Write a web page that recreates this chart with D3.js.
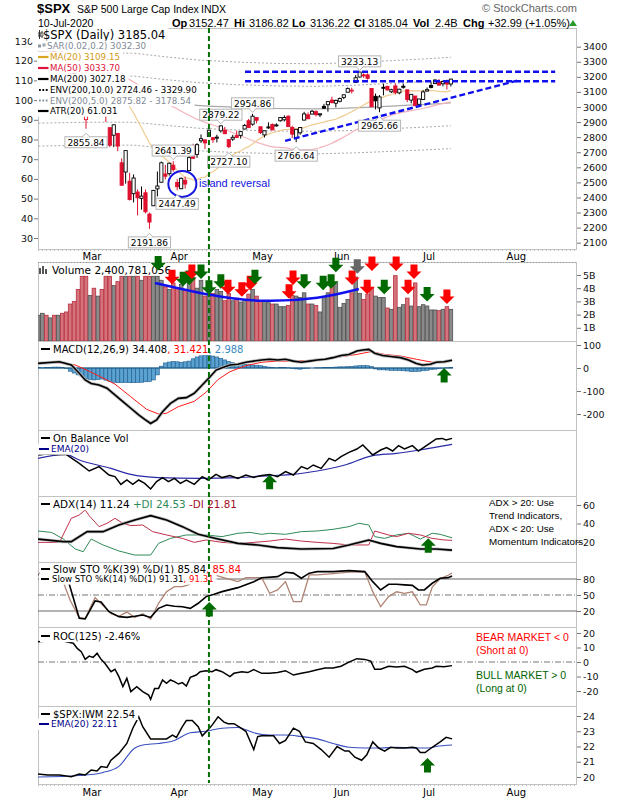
<!DOCTYPE html>
<html><head><meta charset="utf-8">
<script src="https://cdn.jsdelivr.net/npm/d3@7/dist/d3.min.js"></script>
<style>
body{margin:0;background:#fff;}
svg{display:block;font-family:"DejaVu Sans",Verdana,sans-serif;}
</style></head><body>
<svg id="c" width="620" height="800"></svg>
<script>
// ---------------- DATA ----------------
const calStart = "2020-02-11", calEnd = "2020-08-31";
const holidays = ["2020-02-17","2020-04-10","2020-05-25","2020-07-03"];
const prevClose = 3352.09;
const open = [3365,3370,3365,3378,3370,3380,3380,3360,3257,3238,3140,3062,2916,
 2974,3096,3045,3075,2954,2863,2813,2825,2630,2569,2508,2425,2436,2394,2431,2290,2345,2457,2501,2556,2558,2614,
 2499,2458,2514,2578,2738,2686,2776,2782,2805,2796,2799,2842,2845,2784,2787,2810,2812,2854,2909,2886,2930,
 2869,2815,2868,2884,2879,2909,2915,2939,2865,2794,2829,2913,2948,2953,2969,2948,3004,3015,3046,3025,
 3038,3064,3098,3112,3163,3199,3213,3213,3123,3071,2994,3131,3137,3101,3140,3094,3138,3114,3046,3073,3018,3050,
 3106,3143,3155,3167,3154,3176,3152.47];
const high = [3375,3381,3385,3381,3375,3393,3390,3360,3259,3246,3182,3098,2959,
 3091,3136,3131,3083,2985,2863,2883,2825,2660,2711,2563,2553,2453,2473,2453,2300,2450,2572,2638,2616,2631,2641.39,
 2522,2533,2538,2676,2756,2760,2818,2782,2851,2801,2816,2879.22,2868,2785,2815,2844,2842,2887,2921,2954.86,2930,
 2869,2844,2898,2891,2892,2932,2945,2945,2875,2852,2865,2968,2964,2980,2978,2956,3021,3036,3068,3049,
 3063,3081,3130,3128,3212,3233.13,3223,3223,3123,3089,3079,3154,3141,3121,3155,3121,3155,3115,3086,3073,3054,3112,
 3129,3166,3183,3185,3171,3180,3186.82];
const low = [3352,3369,3360,3367,3355,3378,3341,3328,3214,3118,3108,2977,2855.84,
 2946,2976,3034,2999,2901,2734,2734,2707,2478,2492,2380,2367,2281,2319,2295,2191.86,2345,2407,2500,2520,2545,2571,
 2447.49,2455,2459,2574,2657,2663,2762,2721,2805,2762,2765,2830,2820,2727.10,2775,2794,2791,2852,2861,2876,2892,
 2821,2798,2855,2847,2870,2903,2904,2869,2794,2766.64,2816,2913,2922,2953,2938,2933,2988,2969,3023,2998,
 3031,3052,3098,3090,3163,3196,3193,3182,2999,2984,2965.66,3077,3109,3093,3083,3084,3122,3032,3024,3004,3003,3047,
 3102,3124,3155,3143,3137,3116,3136.22];
const close = [3357,3379,3373,3380,3370,3386,3373,3338,3226,3128,3116,2979,2954,
 3090,3003,3130,3024,2972,2747,2882,2741,2481,2711,2386,2529,2398,2409,2305,2237,2447,2476,2630,2541,2627,2585,
 2471,2527,2489,2664,2660,2750,2790,2762,2846,2783,2800,2875,2823,2737,2799,2798,2837,2878,2863,2939,2912,
 2830,2842,2868,2848,2881,2929.8,2930.2,2870,2820,2852,2864,2954,2922,2972,2949,2955,2992,3036,3030,3044,
 3056,3081,3122,3112,3194,3232,3207,3190,3002,3041,3067,3125,3113,3115,3097,3118,3131,3050,3084,3009,3053,3100,
 3115,3130,3179,3145,3169,3152,3185.04];
const volumeB = [1.95,2.1,1.95,1.75,1.95,1.95,2.1,2.2,2.8,3.0,3.9,4.9,4.9,
 3.45,4.0,3.4,3.9,4.9,4.9,4.2,4.5,4.9,4.9,4.9,4.9,4.9,4.6,4.9,4.9,4.9,4.9,4.6,4.1,3.9,4.4,
 4.0,4.3,3.85,4.4,4.8,4.0,4.6,3.4,3.9,3.6,3.9,3.75,3.05,3.6,3.05,3.25,2.95,3.15,3.55,3.9,3.4,
 3.0,3.0,2.9,2.8,2.8,2.6,2.6,2.7,3.45,3.4,3.3,3.65,2.8,2.8,2.7,2.2,3.35,3.65,4.2,4.4,
 2.55,2.85,3.15,3.65,4.85,3.6,3.15,3.55,4.05,3.4,3.3,3.3,2.5,2.4,4.95,2.55,2.75,3.25,2.65,4.4,2.6,2.75,
 2.65,2.35,2.35,2.3,2.4,2.6,2.4];
const ma20 = [3302,3306,3310,3314,3317,3320,3321,3320,3316,3311,3306,3296,3283,3272,3259,3247,3231,3212,3188,3160,3130,
 3085,3052,3002,2960,2910,2862,2811,2761,2727,2695,2678,2657,2634,2613,2580,2555,2531,2527,2516,2516,2532,2534,2557,2570,
 2590,2613,2639,2664,2682,2698,2708,2725,2737,2755,2777,2792,2809,2820,2829,2836,2843,2851,2852,2854,2857,2856,2863,2872,
 2881,2888,2894,2900,2908,2913,2919,2931,2943,2955,2969,2984,2999,3013,3029,3038,3048,3058,3066,3076,3083,3091,3099,3106,
 3106,3109,3107,3107,3108,3108,3109,3108,3104,3102,3100,3109];
const ma50 = [[0,3245],[5,3262],[10,3274],[15,3259],[20,3223],[25,3149],[30,3060],[35,2987],[40,2919],[45,2872],[47,2853],
 [50,2818],[53,2788],[56,2758],[59,2736],[62,2730],[65,2716],[68,2716],[71,2731],[74,2760],[77,2801],[80,2847],[83,2883],
 [86,2914],[89,2945],[92,2966],[95,2980],[98,2997],[101,3017],[104,3034]];
const ma200 = [[0,3045],[13,3052],[24,3052],[32,3030],[40,3011],[50,2998],[60,2990],[70,2988],[80,2995],[90,3008],[98,3018],[104,3027]];
const env10Up = [[0,3350],[13,3357],[24,3357],[32,3333],[40,3312],[50,3298],[60,3289],[70,3287],[80,3295],[90,3309],[98,3320],[104,3330]];
const env5Up  = [[0,3197],[13,3205],[24,3205],[32,3182],[40,3162],[50,3148],[60,3140],[70,3137],[80,3145],[90,3158],[98,3169],[104,3179]];
const env5Lo  = [[0,2893],[13,2899],[24,2899],[32,2879],[40,2860],[50,2848],[60,2841],[70,2839],[80,2845],[90,2858],[98,2867],[104,2876]];
const env10Lo = [[0,2741],[13,2747],[24,2747],[32,2727],[40,2710],[50,2698],[60,2691],[70,2689],[80,2696],[90,2707],[98,2716],[104,2724]];
const priceLabels = [[12,2855.84,"low"],[34,2641.39,"high"],[35,2447.49,"low"],[28,2191.86,"low"],[46,2879.22,"high"],
 [48,2727.10,"low"],[54,2954.86,"high"],[65,2766.64,"low"],[86,2965.66,"low"],[81,3233.13,"high"]];
const resistance = [3234, 3171];
const resistanceSpan = [52.1, 130.3];
const trendLine = [[62.2,2775],[120.7,3175]];
const islandCircle = [36.3, 2490];
const volArc = [[29.4,4.4],[43.3,3.5],[56.4,3.05],[70.3,3.28],[80.8,3.94]];
const volArrows = [[30.2,5.35,"g"],[33.7,4.3,"r"],[36.5,4.15,"g"],[38.0,4.25,"g"],[38.7,4.7,"r"],[41.0,4.7,"g"],[43.0,3.5,"g"],
 [46.0,3.95,"g"],[47.8,3.55,"r"],[51.3,3.35,"r"],[53.4,3.85,"r"],[54.6,4.3,"g"],[63.2,3.2,"r"],[64.2,4.25,"r"],[67.0,3.95,"g"],
 [71.8,3.85,"g"],[73.8,3.95,"g"],[75.0,5.2,"g"],[79.1,4.25,"r"],[80.4,5.1,"k"],[82.9,3.55,"r"],[84.1,5.3,"r"],[87.2,3.55,"g"],
 [90.2,5.3,"r"],[93.2,3.55,"r"],[94.7,4.7,"r"],[98.0,3.0,"g"],[103.0,2.8,"r"]];
const macdLine = [[-0.2,20],[5.3,27],[8.3,13],[10.3,-23],[11.8,-52],[13.3,-67],[15.3,-74],[17.3,-88],[19.3,-117],[21.3,-146],
 [23.3,-175],[25.3,-204],[26.8,-223],[28.3,-241],[29.8,-226],[31.3,-190],[33.3,-154],[35.3,-132],[37.3,-129],[39.3,-110],
 [41.3,-74],[43.3,-38],[44.8,-9],[46.3,1],[48.3,13],[50.3,16],[52.3,25],[54.3,30],[56.3,35],[58.3,38],[60.3,35],[62.3,38],
 [64.3,30],[66.3,25],[68.3,30],[70.3,35],[72.3,38],[74.3,45],[76.3,54],[78.3,59],[80.3,74],[81.8,78],[83.3,81],[84.8,64],
 [86.8,54],[89.3,49],[91.3,45],[93.3,35],[95.3,20],[96.8,13],[98.8,16],[100.3,25],[102.3,27],[104.3,34]];
const macdSignal = [[-0.2,23],[5.3,23],[9.3,13],[12.3,-10],[15.3,-35],[19.3,-70],[23.3,-125],[27.3,-180],[30.3,-200],[32.3,-197],
 [35.3,-168],[39.3,-145],[42.3,-105],[45.3,-50],[48.3,-16],[52.3,10],[56.3,25],[60.3,30],[64.3,30],[68.3,33],[72.3,38],
 [76.3,49],[80.3,59],[83.8,71],[87.3,59],[91.3,52],[95.3,38],[99.3,25],[104.3,31]];
const macdHist = [2,1,2,3,4,4,3,-3,-14,-22,-30,-38,-46,-50,-52,-50,-48,-53,-58,-62,-64,-64,-63,-64,-64,-63,-62,-60,-59,-52,
 -30,8,22,26,28,27,25,27,30,40,48,53,57,55,52,48,42,35,28,23,20,18,16,14,13,12,10,7,4,2,1,2,3,1,-2,-4,-5,-3,-1,0,
 1,1,2,3,3,4,5,5,6,7,9,10,11,10,6,-4,-8,-8,-9,-10,-10,-11,-12,-13,-16,-15,-14,-12,-10,-7,-5,-3,-1,1,3];
const obv = [[0,20.5],[2,21],[4,20.7],[7,20.8],[10.3,16.3],[12.8,12.5],[15.3,14.7],[17.8,10.5],[19.3,9.7],[20.8,5.8],[22.3,8],
 [23.8,5.8],[25.3,8],[26.8,6.3],[28.3,3.5],[29.8,7.2],[31.3,9.2],[32.8,7.2],[34.3,8.8],[35.8,6.3],[37.3,8],[39.3,5.8],
 [41.3,9.7],[42.8,8],[44.8,10.8],[46.3,9.2],[48.3,10.2],[50.3,8.8],[52.3,10.5],[54.3,9.3],[56.3,10.2],[58.3,10.8],[60.3,9.7],
 [62.3,12.2],[64.3,10.5],[66.3,14.7],[67.8,13.5],[69.3,15.5],[71.3,13.8],[73.3,18.8],[74.8,17.5],[76.3,19.7],[78.3,21.8],
 [80.3,23.5],[81.8,25.5],[84.3,20.5],[86.3,23],[87.8,24.2],[89.3,22.5],[90.8,25.2],[92.3,23.5],[94.3,25.2],[95.8,22.5],
 [98.3,25.8],[100.3,28.5],[101.8,28.8],[102.8,28],[104.3,28.8]];
const obvEma = [[-0.2,18.8],[6.8,20.8],[10.3,18],[18.3,13.8],[23.3,10.8],[30.3,9.2],[40.3,8.8],[50.3,9.2],[58.3,10.2],
 [64.3,10.8],[70.3,12.5],[77.3,15.5],[84.3,20.2],[90.3,21.3],[96.3,23],[104.3,25.8]];
const adx = [[-0.2,23.2],[6.3,20.4],[8.3,20.4],[12.3,31.2],[16.3,31.2],[20.3,38.4],[24.3,43.8],[28.3,48.5],[32.3,43.8],
 [36.3,36.6],[40.3,28.3],[45.3,23.2],[50.3,18.5],[55.3,16.8],[60.3,13.9],[66.3,12.4],[74.3,13],[78.3,16.8],[83.3,22.2],
 [86.3,18.5],[90.3,15],[96.3,12.4],[100.3,12.4],[104.3,11.2]];
const plusDI = [[-0.2,31.9],[3.3,30.4],[6.3,23.2],[9.3,12.4],[11.3,9.5],[13.3,23.2],[16.3,16.8],[20.3,10.3],[24.3,5.9],
 [28.3,5.9],[30.3,18.5],[33.3,23.9],[37.3,27.6],[42.3,27.6],[46.3,25.8],[50.3,29.4],[53.3,30.4],[56.3,28.3],[58.3,29.4],
 [62.3,28.3],[66.3,31.2],[70.3,31.9],[74.3,33.7],[78.3,36.6],[80.8,40.2],[83.3,38.4],[84.8,25.8],[87.3,23.9],[90.3,27.6],
 [93.3,29.4],[96.3,23.2],[99.3,29.4],[101.3,28.3],[104.3,24.5]];
const minusDI = [[-0.2,19.6],[5.3,19.6],[8.3,45.6],[10.3,49.2],[11.8,54.6],[12.8,48.5],[15.3,36.6],[17.3,40.2],[19.3,45.6],
 [21.3,40.2],[23.3,37.7],[26.3,38.4],[28.8,31.2],[32.3,27.6],[36.3,23.9],[39.3,19.6],[42.3,22.2],[46.3,19.6],[50.3,18.5],
 [54.3,19.6],[58.3,21],[62.3,23.2],[66.3,21],[70.3,19.6],[74.3,18.5],[78.3,16.8],[83.3,16.8],[84.8,31.9],[88.3,27.6],
 [90.3,25.8],[93.3,29.4],[96.3,27.6],[99.3,23.9],[102.3,22.2],[104.3,21.8]];
const sto39 = [[0,88],[2,90],[4,92],[6,85],[7.8,70],[10.3,6.3],[11.8,5],[14.3,38.8],[15.8,37],[17.8,18.8],[20.3,9.4],[22.3,8],
 [24.3,10],[26.3,12.5],[28.3,8],[30.3,25],[32.3,31.3],[34.3,29],[36.3,28],[38.3,25],[40.3,34.5],[42.3,47],[44.3,51.3],
 [46.3,56.3],[50.3,63.8],[54.3,75],[56.3,82.5],[60.3,84.4],[62.3,92.6],[64.3,91],[66.3,81.4],[68.3,91],[70.3,93.8],
 [74.3,93.8],[78.3,95.7],[82.3,93.8],[84.3,75],[86.3,59.5],[88.3,70.2],[90.3,70.2],[92.3,69],[94.3,68],[95.8,59.5],
 [97.3,59.5],[99.3,72],[101.3,81.4],[103.3,82.5],[104.3,85.8]];
const sto14 = [[0,90],[2,95],[4,97],[6,80],[8,40],[10.3,8],[11.8,6],[13.3,30],[14.3,45],[16.3,30],[18.3,15],[20.3,10],
 [22.3,18],[24.3,8],[26.3,15],[28.3,5],[30.3,34.5],[32.3,56],[34.3,65.7],[36.3,65.7],[37.8,69],[40.3,80],[42.3,86],
 [44.3,88],[45.8,84.4],[50.3,75],[52.3,82.5],[56.3,82.5],[58.3,53.3],[60.3,59.5],[62.3,75],[64.3,37.5],[66.3,37.5],
 [68.3,87.6],[70.3,87.6],[74.3,90],[78.3,93],[82.3,93],[84.3,56.3],[86.3,28.1],[88.3,47],[90.3,56],[92.3,53],[94.3,56],
 [96.3,31.3],[97.8,31.3],[99.3,65],[101.3,81],[103.3,87],[104.3,91.3]];
const roc = [[-0.2,14],[2.3,14.5],[6.3,14.5],[8.8,12.9],[9.8,9.4],[10.8,7.1],[11.8,1.8],[12.8,4.1],[13.8,3.2],[14.8,6],
 [15.8,1.8],[16.8,-1],[18.3,-6.7],[19.3,-5],[20.3,-10.1],[21.3,-17],[22.3,-11.3],[23.3,-20.4],[24.8,-17],[26.3,-20.4],
 [27.8,-22.8],[28.3,-25.7],[29.3,-18.2],[30.3,-18.2],[31.3,-12.4],[32.3,-14.7],[33.3,-12.4],[34.3,-13.5],[35.3,-15.2],
 [36.3,-14.2],[37.3,-16.6],[38.3,-10.6],[39.8,-9],[40.8,-6.7],[42.3,-6],[43.8,-6.7],[44.8,-5.3],[46.3,-6.7],[47.3,-8.3],
 [48.3,-10.1],[49.3,-7.8],[51.3,-6.7],[52.8,-7.3],[54.3,-5.3],[56.3,-7.8],[58.3,-7.8],[60.3,-7.3],[62.3,-6],[64.3,-9],
 [66.3,-7.8],[68.3,-6.7],[70.3,-5.3],[72.3,-4.1],[74.3,-4.1],[76.3,-2.9],[78.3,-0.1],[80.3,2.3],[82.3,1.8],[83.8,0.6],
 [84.8,-5],[86.3,-5],[88.3,-2.9],[90.3,-3.4],[92.3,-2.9],[94.3,-5.3],[95.3,-7.1],[97.3,-5],[99.3,-4.1],[100.3,-2.9],
 [102.3,-3.3],[104.3,-2.5]];
const spxIwm = [[-0.2,20.2],[2.3,20.13],[5.3,20.13],[8.3,20.02],[10.3,20.2],[11.8,20.13],[13.3,20.46],[14.8,20.4],[15.8,20.68],
 [17.3,20.63],[18.3,21.1],[20.3,21.55],[22.3,22.2],[23.8,23.2],[24.8,23.7],[25.3,23.95],[26.3,23.3],[28.3,22.5],[30.3,22.5],
 [32.3,22.5],[33.8,22.75],[34.8,22.6],[36.3,23.3],[37.3,23.7],[38.8,23.7],[40.3,23.3],[41.3,22.7],[42.8,23.1],[43.8,23.4],
 [45.3,23.95],[46.8,23.6],[47.8,23.5],[49.3,23.5],[50.8,23.25],[52.3,23.0],[54.3,21.8],[55.3,22.65],[56.3,22.7],[59.3,22.7],
 [60.8,22.2],[62.3,22.4],[64.3,23.2],[65.8,23.0],[67.3,22.3],[69.3,22.2],[71.3,21.8],[73.3,21.3],[75.3,22.0],[77.3,21.7],
 [78.3,21.7],[79.8,21.3],[81.5,21.1],[82.8,21.45],[84.3,22.3],[85.8,21.9],[87.3,21.7],[88.8,21.95],[90.3,21.9],[92.3,21.9],
 [94.3,21.95],[95.3,21.9],[96.3,21.6],[97.5,21.6],[99.3,21.95],[101.3,22.3],[102.8,22.6],[104.3,22.5]];
const iwmEma = [[-0.2,20.0],[10.3,20.1],[16.3,20.3],[20.3,20.7],[24.3,21.9],[26.3,22.1],[30.3,22.2],[34.3,22.4],[38.3,22.9],
 [42.3,23.0],[46.3,23.2],[50.3,23.25],[54.3,22.9],[58.3,22.75],[62.3,22.75],[66.3,22.65],[70.3,22.5],[74.3,22.2],[78.3,21.95],
 [82.3,21.9],[86.3,21.9],[90.3,21.95],[94.3,21.9],[98.3,21.9],[100.3,22.0],[104.3,22.1]];
const upArrows = [["macd",102.3,0],["obv",58.3,10.6],["adx",98.3,24],["sto",43.1,37],["iwm",98.1,21.25]];
const vLineIdx = 43;
const priceTicks = [2100,2200,2300,2400,2500,2600,2700,2800,2900,3000,3100,3200,3300,3400];
const leftTicks = [30,40,50,60,70,80,90,100,110,120,130];
const volTicks = [1,2,3,4,5];
const macdTicks = [-200,-100,0,100];
const adxTicks = [20,40,60];
const stoTicks = [20,50,80];
const rocTicks = [-20,-10,0,10,20];
const iwmTicks = [20,21,22,23,24];

// ---------------- LAYOUT ----------------
const svg = d3.select("#c");
const L = 38, R = 577;
const X = d3.scaleLinear().domain([-0.1,135.8]).range([L,R]);
const P = {price:[28,249],vol:[262,341],macd:[341,430],obv:[430,496],adx:[496,562],sto:[562,627],roc:[627,706],iwm:[706,784]};
const yP = d3.scaleLinear().domain([2100,3400]).range([242.7,46.7]);
const yPL = d3.scaleLinear().domain([30,130]).range([238,41]);
const yV = d3.scaleLinear().domain([0,5]).range([341,275]);
const yM = d3.scaleLinear().domain([-200,100]).range([414,345]);
const yO = d3.scaleLinear().domain([0,32.5]).range([496,431]);
const yA = d3.scaleLinear().domain([20,60]).range([542,505]);
const yS = d3.scaleLinear().domain([20,80]).range([611,579]);
const yR = d3.scaleLinear().domain([-20,20]).range([691,633]);
const yI = d3.scaleLinear().domain([20,24]).range([777,716]);
const YS = {macd:yM,obv:yO,adx:yA,sto:yS,iwm:yI};

const parse = d3.timeParse("%Y-%m-%d"), fmt = d3.timeFormat("%Y-%m-%d");
const days = d3.timeDay.range(parse(calStart), d3.timeDay.offset(parse(calEnd),1))
  .filter(d => d.getDay()%6 !== 0 && !holidays.includes(fmt(d)));
const monthTicks = [];
days.forEach((d,i)=>{ if(i>0 && d.getMonth()!==days[i-1].getMonth()) monthTicks.push([i, d3.timeFormat("%b")(d)]); });

const defs = svg.append("defs");
Object.entries(P).forEach(([k,[t,b]])=>{
  defs.append("clipPath").attr("id","clip-"+k).append("rect").attr("x",L).attr("y",t).attr("width",R-L).attr("height",b-t);
});
Object.entries(P).forEach(([k,[t,b]])=>{
  svg.append("rect").attr("x",L+0.5).attr("y",t+0.5).attr("width",R-L-1).attr("height",b-t).attr("fill","none").attr("stroke","#c2c2c2");
});
svg.append("line").attr("x1",L).attr("x2",R).attr("y1",250.5).attr("y2",250.5).attr("stroke","#bbb").attr("stroke-dasharray","1,3");
svg.append("line").attr("x1",L).attr("x2",R).attr("y1",262.5).attr("y2",262.5).attr("stroke","#999").attr("stroke-dasharray","1,2");
svg.append("line").attr("x1",L).attr("x2",R).attr("y1",785.5).attr("y2",785.5).attr("stroke","#bbb").attr("stroke-dasharray","1,3");

const lineP = (y,curve)=>d3.line().x(d=>X(d[0])).y(d=>y(d[1])).curve(curve||d3.curveLinear);
function gClip(k){ return svg.append("g").attr("clip-path","url(#clip-"+k+")"); }
function axisRight(y,ticks,fmtf){
  const g = svg.append("g").attr("transform","translate("+R+",0)")
    .call(d3.axisRight(y).tickValues(ticks).tickSize(4).tickPadding(2).tickFormat(fmtf||(d=>d)));
  g.select(".domain").remove();
  g.selectAll("line").attr("stroke","#777");
  g.selectAll("text").attr("font-family","DejaVu Sans").attr("font-size",9.5).attr("fill","#111");
  return g;
}
function legendRow(x,y,parts,fs,bg){
  const t = svg.append("text").attr("x",x).attr("y",y+fs*0.36).attr("font-size",fs);
  parts.forEach(p=>t.append("tspan").attr("fill",p[1]).text(p[0]));
  if(bg!==false){
    const bb = t.node().getBBox();
    svg.insert("rect", function(){return t.node();}).attr("x",x-13).attr("y",bb.y-0.5).attr("width",bb.width+16).attr("height",bb.height+1).attr("fill","#fff");
  }
  return t;
}
function arrowPath(x,yTip,dir){
  const hw=7.5, sw=3.5, hh=7.5, sh=7, s=dir;
  const yb=yTip-s*hh, yt=yTip-s*(hh+sh);
  return `M${x-sw},${yt}L${x+sw},${yt}L${x+sw},${yb}L${x+hw},${yb}L${x},${yTip}L${x-hw},${yb}L${x-sw},${yb}Z`;
}
const arrowCol = {g:"#006a00", r:"#ff0000", k:"#666666"};

// ---------------- HEADER ----------------
svg.append("text").attr("x",37).attr("y",13).attr("font-family","Liberation Sans").attr("font-weight","bold").attr("font-size",13).text("$SPX");
svg.append("text").attr("x",77).attr("y",13).attr("font-family","Liberation Sans").attr("font-size",10.5).text("S&P 500 Large Cap Index");
svg.append("text").attr("x",201).attr("y",13).attr("font-family","Liberation Sans").attr("font-size",10.5).text("INDX");
svg.append("text").attr("x",577).attr("y",12).attr("text-anchor","end").attr("font-family","Liberation Sans").attr("font-size",11).attr("fill","#666").text("\u00a9 StockCharts.com");
svg.append("text").attr("x",38).attr("y",26.5).attr("font-family","Liberation Sans").attr("font-size",10.5).text("10-Jul-2020");
const hdr = [["Op",172,true],["3152.47",189],["Hi",234,true],["3186.82",249],["Lo",292,true],["3136.22",310],["Cl",354,true],
  ["3185.04",368],["Vol",413,true],["2.4B",435],["Chg",463,true],["+32.99 (+1.05%)",488]];
hdr.forEach(h=>svg.append("text").attr("x",h[1]).attr("y",26.5).attr("font-family","Liberation Sans").attr("font-size",11)
  .attr("font-weight",h[2]?"bold":"normal").text(h[0]));
svg.append("path").attr("d","M569,26L577,26L573,20Z").attr("fill","#2a9a2a");

// ---------------- PRICE PANEL ----------------
const gp = gClip("price");
[env10Up,env5Up,env5Lo,env10Lo].forEach(a=>gp.append("path").attr("d",lineP(yP)(a)).attr("fill","none")
   .attr("stroke","#a9a9a9").attr("stroke-width",1).attr("stroke-dasharray","2,2"));
gp.append("path").attr("d",lineP(yP,d3.curveMonotoneX)(ma200)).attr("fill","none").attr("stroke","#a8a8a8").attr("stroke-width",1.2);
gp.append("path").attr("d",lineP(yP,d3.curveMonotoneX)(ma50)).attr("fill","none").attr("stroke","#f4b4bc").attr("stroke-width",1.2);
gp.append("path").attr("d",d3.line().x((d,i)=>X(i)).y(d=>yP(d))(ma20)).attr("fill","none").attr("stroke","#efcb8f").attr("stroke-width",1.2);
close.forEach((c,i)=>{
  const pc = i===0?prevClose:close[i-1];
  const col = c<pc ? "#e0102f" : "#000";
  const o = open[i], x = X(i);
  gp.append("line").attr("x1",x).attr("x2",x).attr("y1",yP(high[i])).attr("y2",yP(low[i])).attr("stroke",col).attr("stroke-width",1);
  const yt = yP(Math.max(o,c)), yb = yP(Math.min(o,c));
  gp.append("rect").attr("x",x-1.6).attr("y",yt).attr("width",3.2).attr("height",Math.max(1,yb-yt))
    .attr("fill", c>=o ? "#fff" : col).attr("stroke",col).attr("stroke-width",0.9);
});
resistance.forEach(v=>gp.append("line").attr("x1",X(resistanceSpan[0])).attr("x2",X(resistanceSpan[1])).attr("y1",yP(v)).attr("y2",yP(v))
  .attr("stroke","#1010ee").attr("stroke-width",2.4).attr("stroke-dasharray","6,3"));
gp.append("path").attr("d",lineP(yP)(trendLine)).attr("stroke","#1010ee").attr("stroke-width",2.4).attr("stroke-dasharray","6,3").attr("fill","none");
gp.append("ellipse").attr("cx",X(islandCircle[0])).attr("cy",yP(islandCircle[1])).attr("rx",14).attr("ry",13)
  .attr("fill","none").attr("stroke","#1515e0").attr("stroke-width",2);
svg.append("text").attr("x",199).attr("y",187).attr("font-family","Liberation Sans").attr("font-size",11).attr("fill","#1515e0").text("island reversal");
priceLabels.forEach(([i,v,kind])=>{
  const cx = X(i), txt = v.toFixed(2);
  const t = svg.append("text").attr("x",cx).attr("text-anchor","middle").attr("font-size",9).text(txt);
  const w = t.node().getComputedTextLength()+5, h = 11;
  let top;
  if(kind==="low"){ top = yP(v)+8; } else { top = yP(v)-5-h; }
  t.attr("y",top+8.8);
  const g = svg.insert("g",function(){return t.node();});
  g.append("rect").attr("x",cx-w/2).attr("y",top).attr("width",w).attr("height",h).attr("fill","#fff").attr("stroke","#b5b5b5");
  if(kind==="low") g.append("path").attr("d",`M${cx-4},${top+0.5}L${cx},${top-3.5}L${cx+4},${top+0.5}`).attr("fill","#fff").attr("stroke","#b5b5b5");
  else g.append("path").attr("d",`M${cx-4},${top+h-0.5}L${cx},${top+h+3.5}L${cx+4},${top+h-0.5}`).attr("fill","#fff").attr("stroke","#b5b5b5");
});
axisRight(yP,priceTicks);
{
  const g = svg.append("g").attr("transform","translate("+L+",0)").call(d3.axisLeft(yPL).tickValues(leftTicks).tickSize(4).tickPadding(1));
  g.select(".domain").remove(); g.selectAll("line").attr("stroke","#777");
  g.selectAll("text").attr("font-family","DejaVu Sans").attr("font-size",9.5).attr("fill","#111");
}
const pRows = [
 [35,11.5,43,[["$SPX (Daily) 3185.04","#000"]],"candle"],
 [46,8.7,47,[["SAR(0.02,0.2) 3032.30","#7f8a96"]],"sar"],
 [57,8.7,50,[["MA(20) 3109.15","#d49a17"]],"#daa520"],
 [68,8.7,50,[["MA(50) 3033.70","#dc143c"]],"#dc143c"],
 [79,8.7,50,[["MA(200) 3027.18","#000"]],"#000"],
 [90,8.7,50,[["ENV(200,10.0) 2724.46 - 3329.90","#000"]],"dots#000"],
 [100.5,8.7,50,[["ENV(200,5.0) 2875.82 - 3178.54","#7f8a96"]],"dots#8a96a0"],
 [111,8.7,50,[["ATR(20) 61.031","#000"]],"#000"]];
pRows.forEach(([y,fs,x,parts,icon])=>{
  legendRow(x,y,parts,fs);
  if(icon==="candle"){
    svg.append("line").attr("x1",39.5).attr("x2",39.5).attr("y1",30).attr("y2",39).attr("stroke","#333");
    svg.append("rect").attr("x",38.5).attr("y",32).attr("width",2).attr("height",5).attr("fill","#333");
    svg.append("line").attr("x1",42).attr("x2",42).attr("y1",31).attr("y2",38).attr("stroke","#333");
    svg.append("rect").attr("x",41).attr("y",33).attr("width",2).attr("height",3).attr("fill","#fff").attr("stroke","#333").attr("stroke-width",0.7);
  } else if(icon==="sar"){
    svg.append("rect").attr("x",38.5).attr("y",y-1).attr("width",2).attr("height",2).attr("fill","none").attr("stroke","#8a96a0");
    svg.append("rect").attr("x",43).attr("y",y-2).attr("width",2).attr("height",2).attr("fill","none").attr("stroke","#8a96a0");
  } else if(icon.startsWith("dots")){
    const c = icon.slice(4);
    svg.append("line").attr("x1",39).attr("x2",49).attr("y1",y).attr("y2",y).attr("stroke",c).attr("stroke-width",1.8).attr("stroke-dasharray","1.8,1.6");
  } else {
    svg.append("line").attr("x1",38).attr("x2",48.5).attr("y1",y).attr("y2",y).attr("stroke",icon).attr("stroke-width",2.2);
  }
});

const mLab = (y)=>monthTicks.forEach(([i,lab])=>{ if(X(i)<R-10) svg.append("text").attr("x",X(i)+2).attr("y",y).attr("text-anchor","middle").attr("font-size",10).text(lab); });
mLab(259.5); mLab(796);

// ---------------- VOLUME ----------------
const gv = gClip("vol");
volumeB.forEach((v,i)=>{
  const pc = i===0?prevClose:close[i-1];
  const dn = close[i]<pc;
  gv.append("rect").attr("x",X(i)-1.8).attr("y",yV(v)).attr("width",3.6).attr("height",yV(0)-yV(v))
    .attr("fill",dn?"#d4737b":"#8a8a8a").attr("stroke",dn?"#b83040":"#505050").attr("stroke-width",0.8);
});
legendRow(52,270.5,[["Volume 2,400,781,056","#000"]],10.5,false);
[[39,268,2,6],[42,266,2,8],[45,269,2,5]].forEach(r=>svg.append("rect").attr("x",r[0]).attr("y",r[1]).attr("width",r[2]).attr("height",r[3]).attr("fill","#555"));
svg.append("path").attr("d",lineP(yV,d3.curveNatural)(volArc)).attr("fill","none").attr("stroke","#1010ee").attr("stroke-width",2.5);
volArrows.forEach(([i,v,c])=>svg.append("path").attr("d",arrowPath(X(i),yV(v),1)).attr("fill",arrowCol[c]));
axisRight(yV,volTicks,d=>d+"B");

// ---------------- MACD ----------------
const gm = gClip("macd");
macdHist.forEach((v,i)=>{
  gm.append("rect").attr("x",X(i)-1.9).attr("y",Math.min(yM(0),yM(v))).attr("width",3.8).attr("height",Math.abs(yM(v)-yM(0)))
    .attr("fill","#5aa2d2").attr("stroke","#1d5a8a").attr("stroke-width",0.6);
});
gm.append("line").attr("x1",X(-0.5)).attr("x2",X(104.5)).attr("y1",yM(0)).attr("y2",yM(0)).attr("stroke","#1d5a8a").attr("stroke-width",1);
gm.append("path").attr("d",lineP(yM)(macdSignal)).attr("fill","none").attr("stroke","#ff1a1a").attr("stroke-width",1);
gm.append("path").attr("d",lineP(yM)(macdLine)).attr("fill","none").attr("stroke","#bbb").attr("stroke-width",3.2);
gm.append("path").attr("d",lineP(yM)(macdLine)).attr("fill","none").attr("stroke","#000").attr("stroke-width",1.6);
legendRow(53,349,[["MACD(12,26,9) 34.408","#000"],[", 31.421","#ff0000"],[", 2.988","#3a8ac0"]],10);
svg.append("line").attr("x1",41).attr("x2",50).attr("y1",349).attr("y2",349).attr("stroke","#000").attr("stroke-width",2);
axisRight(yM,macdTicks);

// ---------------- OBV ----------------
const go = gClip("obv");
go.append("path").attr("d",lineP(yO,d3.curveMonotoneX)(obvEma)).attr("fill","none").attr("stroke","#2a2aa8").attr("stroke-width",1.2);
go.append("path").attr("d",lineP(yO)(obv)).attr("fill","none").attr("stroke","#000").attr("stroke-width",1.5);
legendRow(53,438,[["On Balance Vol","#000"]],10);
legendRow(51,449,[["EMA(20)","#00008b"]],9);
svg.append("line").attr("x1",41).attr("x2",50).attr("y1",438).attr("y2",438).attr("stroke","#000").attr("stroke-width",2);
svg.append("line").attr("x1",39).attr("x2",49).attr("y1",449).attr("y2",449).attr("stroke","#00008b").attr("stroke-width",2);

// ---------------- ADX ----------------
const ga = gClip("adx");
ga.append("path").attr("d",lineP(yA)(plusDI)).attr("fill","none").attr("stroke","#2e8b57").attr("stroke-width",1);
ga.append("path").attr("d",lineP(yA)(minusDI)).attr("fill","none").attr("stroke","#c0304a").attr("stroke-width",1);
ga.append("path").attr("d",lineP(yA)(adx)).attr("fill","none").attr("stroke","#bbb").attr("stroke-width",3);
ga.append("path").attr("d",lineP(yA)(adx)).attr("fill","none").attr("stroke","#000").attr("stroke-width",1.6);
legendRow(53,504,[["ADX(14) 11.24","#000"],[" +DI 24.53","#2e8b57"],[" -DI 21.81","#a0102a"]],10.4);
svg.append("line").attr("x1",41).attr("x2",50).attr("y1",504).attr("y2",504).attr("stroke","#000").attr("stroke-width",2);
axisRight(yA,adxTicks);
["ADX > 20: Use","Trend Indicators,","ADX < 20: Use","Momentum Indicators"].forEach((s,k)=>
  svg.append("text").attr("x",489).attr("y",506+k*13).attr("font-family","Liberation Sans").attr("font-size",9.8).text(s));

// ---------------- STO ----------------
const gs = gClip("sto");
gs.append("line").attr("x1",L).attr("x2",R).attr("y1",yS(80)).attr("y2",yS(80)).attr("stroke","#666");
gs.append("line").attr("x1",L).attr("x2",R).attr("y1",yS(20)).attr("y2",yS(20)).attr("stroke","#666");
gs.append("line").attr("x1",L).attr("x2",R).attr("y1",yS(50)).attr("y2",yS(50)).attr("stroke","#777").attr("stroke-dasharray","6,2,1,2");
gs.append("path").attr("d",lineP(yS)(sto14)).attr("fill","none").attr("stroke","#b08474").attr("stroke-width",1.3);
gs.append("path").attr("d",lineP(yS)(sto39)).attr("fill","none").attr("stroke","#000").attr("stroke-width",1.6);
legendRow(53,569,[["Slow STO %K(39) %D(1) 85.84","#000"],[", 85.84","#ff0000"]],10);
legendRow(52,579,[["Slow STO %K(14) %D(1) 91.31","#000"],[", 91.31","#ff0000"]],8.6);
svg.append("line").attr("x1",41).attr("x2",50).attr("y1",569).attr("y2",569).attr("stroke","#000").attr("stroke-width",2);
svg.append("line").attr("x1",41).attr("x2",49).attr("y1",579).attr("y2",579).attr("stroke","#000").attr("stroke-width",2);
axisRight(yS,stoTicks);

// ---------------- ROC ----------------
const gr = gClip("roc");
gr.append("line").attr("x1",L).attr("x2",R).attr("y1",yR(0)).attr("y2",yR(0)).attr("stroke","#777").attr("stroke-dasharray","6,2,1,2");
gr.append("path").attr("d",lineP(yR)(roc)).attr("fill","none").attr("stroke","#000").attr("stroke-width",1.5);
legendRow(53,636,[["ROC(125) -2.46%","#000"]],10);
svg.append("line").attr("x1",41).attr("x2",50).attr("y1",636).attr("y2",636).attr("stroke","#000").attr("stroke-width",2);
axisRight(yR,rocTicks);
[["BEAR MARKET < 0",641,"#ff0000"],["(Short at 0)",654,"#ff0000"],["BULL MARKET > 0",679,"#006400"],["(Long at 0)",692,"#006400"]]
 .forEach(s=>svg.append("text").attr("x",476).attr("y",s[1]).attr("font-family","Liberation Sans").attr("font-size",10.5).attr("fill",s[2]).text(s[0]));

// ---------------- SPX:IWM ----------------
const gi = gClip("iwm");
gi.append("path").attr("d",lineP(yI,d3.curveMonotoneX)(iwmEma)).attr("fill","none").attr("stroke","#3a4fc0").attr("stroke-width",1.1);
gi.append("path").attr("d",lineP(yI)(spxIwm)).attr("fill","none").attr("stroke","#000").attr("stroke-width",1.5);
legendRow(53,714,[["$SPX:IWM 22.54","#000"]],10);
legendRow(51,724,[["EMA(20) 22.11","#00008b"]],9);
svg.append("line").attr("x1",41).attr("x2",50).attr("y1",714).attr("y2",714).attr("stroke","#000").attr("stroke-width",2);
svg.append("line").attr("x1",39).attr("x2",49).attr("y1",724).attr("y2",724).attr("stroke","#00008b").attr("stroke-width",2);
axisRight(yI,iwmTicks);

upArrows.forEach(([k,i,v])=>svg.append("path").attr("d",arrowPath(X(i),YS[k](v),-1)).attr("fill","#006a00"));

svg.append("line").attr("x1",X(vLineIdx)).attr("x2",X(vLineIdx)).attr("y1",28).attr("y2",783)
  .attr("stroke","#007000").attr("stroke-width",2).attr("stroke-dasharray","5,3");
</script>
</body></html>
